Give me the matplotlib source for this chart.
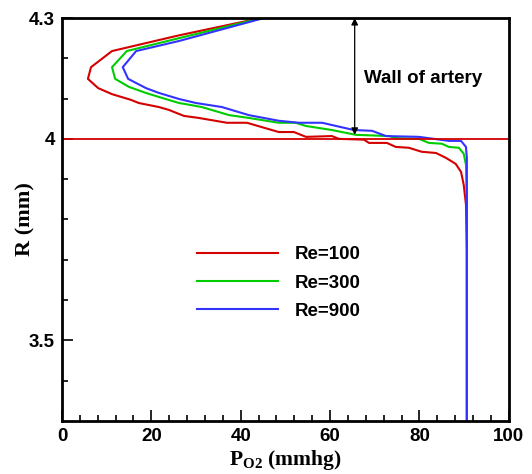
import matplotlib
matplotlib.use("Agg")
import matplotlib.pyplot as plt
import numpy as np

plt.rcParams['font.family'] = ['Liberation Sans', 'DejaVu Sans']
plt.rcParams['mathtext.fontset'] = 'custom'
plt.rcParams['mathtext.rm'] = 'Liberation Serif:bold'
plt.rcParams['mathtext.bf'] = 'Liberation Serif:bold'
plt.rcParams['mathtext.it'] = 'Liberation Serif:bold'

# Re=100
po2_re100 = [44.5, 26.2, 11.2, 6.5, 5.8, 8.1, 11.2, 15.4, 17.2, 21.7, 23.9, 27.3, 30.6, 36.9, 41.4,
             48.5, 51.9, 54.6, 60.4, 62.0, 67.6, 68.7, 72.7, 74.7, 77.6, 80.5, 83.7, 85.9, 88.1,
             89.3, 89.9, 90.4, 90.6, 90.6]
r_re100 = [4.300, 4.257, 4.218, 4.178, 4.149, 4.126, 4.111, 4.097, 4.089, 4.079, 4.072, 4.057, 4.052,
           4.040, 4.040, 4.017, 4.017, 4.005, 4.007, 4.000, 3.998, 3.990, 3.990, 3.980, 3.978, 3.968,
           3.965, 3.953, 3.938, 3.918, 3.886, 3.837, 3.725, 3.30]
# Re=300
po2_re300 = [44.7, 26.2, 14.5, 11.2, 11.9, 15.0, 18.8, 21.7, 26.2, 27.3, 31.3, 37.4, 41.8, 48.5, 52.3,
             54.6, 60.4, 65.8, 73.2, 74.7, 79.9, 82.1, 85.0, 86.6, 88.8, 89.9, 90.4, 90.6, 90.6]
r_re300 = [4.300, 4.250, 4.218, 4.178, 4.149, 4.129, 4.114, 4.104, 4.089, 4.087, 4.079, 4.059, 4.052,
           4.040, 4.040, 4.032, 4.022, 4.010, 4.007, 4.002, 4.000, 3.990, 3.988, 3.980, 3.978, 3.963,
           3.936, 3.837, 3.30]
# Re=900
po2_re900 = [45.2, 26.2, 16.6, 13.6, 14.8, 18.8, 21.7, 26.2, 30.0, 35.8, 41.8, 48.5, 53.0, 58.2, 65.3,
             69.4, 72.5, 79.9, 86.6, 89.3, 90.4, 90.6, 90.6, 90.6]
r_re900 = [4.300, 4.243, 4.218, 4.178, 4.149, 4.126, 4.114, 4.099, 4.089, 4.079, 4.059, 4.045, 4.040,
           4.040, 4.022, 4.020, 4.007, 4.005, 3.995, 3.995, 3.980, 3.953, 3.837, 3.30]

labels = ['Re=100', 'Re=300', 'Re=900']
colors = ['#d40000', '#00cc00', '#3333ff']
wall_r = 4.0
arrow_x = 65.5
arrow_top = 4.3
arrow_bottom = 4.01
annotation = 'Wall of artery'

fig = plt.figure(figsize=(5.32, 4.74), dpi=100)
ax = fig.add_axes([0.1165, 0.112, 0.840, 0.850])

for xs, ys, lab, c in zip([po2_re100, po2_re300, po2_re900],
                          [r_re100, r_re300, r_re900], labels, colors):
    ax.plot(xs, ys, color=c, lw=1.5, label=lab)

ax.axhline(wall_r, color='#d40000', lw=1.3)

ax.annotate('', xy=(arrow_x, arrow_bottom), xytext=(arrow_x, arrow_top),
            arrowprops=dict(arrowstyle='<|-|>', color='black', lw=0.9,
                            mutation_scale=10, shrinkA=0, shrinkB=0))
ax.text(67.6, 4.151, annotation, fontsize=13.5, fontweight='bold', va='center', ha='left')

ax.set_xlim(0, 100)
ax.set_ylim(3.3, 4.3)
ax.set_xticks([0, 20, 40, 60, 80, 100])
ax.set_xticks(np.arange(0, 101, 4), minor=True)
ax.set_yticks([3.5, 4.0, 4.3])
ax.set_yticklabels(['3.5', '4', '4.3'])
ax.set_yticks(np.arange(3.4, 4.25, 0.1), minor=True)
ax.tick_params(which='both', direction='in', top=False, right=False, width=1.2)
ax.tick_params(which='major', length=8, labelsize=13.5, pad=5)
ax.tick_params(which='minor', length=4.5)
for lab in ax.get_xticklabels() + ax.get_yticklabels():
    lab.set_fontweight('bold')
for s in ax.spines.values():
    s.set_linewidth(2)

ax.set_ylabel('R (mm)', fontsize=16, fontweight='bold', family='Liberation Serif')
ax.yaxis.set_label_coords(-0.06, 0.5)
ax.set_xlabel(r'$\mathbf{P_{O2}}$ (mmhg)', fontsize=15.5, fontweight='bold', family='Liberation Serif')
ax.xaxis.set_label_coords(0.5, -0.066)

leg = ax.legend(loc='upper left', bbox_to_anchor=(0.265, 0.476), frameon=False,
                prop={'size': 13.5, 'weight': 'bold'}, handlelength=4.3,
                handletextpad=0.9, labelspacing=0.6)

fig.savefig('out.png', dpi=100)
